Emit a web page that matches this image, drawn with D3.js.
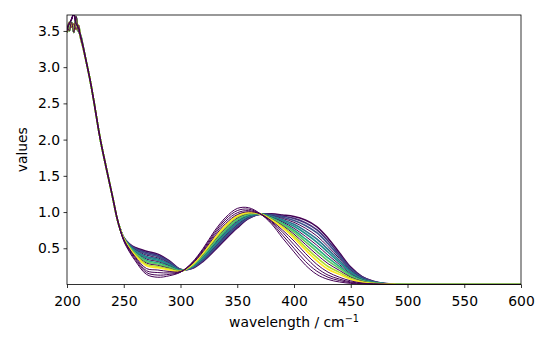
<!DOCTYPE html>
<html><head><meta charset="utf-8">
<script src="https://cdn.jsdelivr.net/npm/d3@7"></script>
<style>
body{margin:0;background:#fff;}
text{font-family:"DejaVu Sans",sans-serif;}
</style></head>
<body><svg id="c" width="550" height="350"></svg>
<script>
// wavelengths of the steep UV part, shared by all spectra
const headWl = [200,202,204,206,208,210,212,214,216,218,220,222,224,226,228,230,235,240,245];
const headA = [3.52,3.60,3.66,3.74,3.60,3.55,3.42,3.30,3.15,3.00,2.85,2.68,2.50,2.31,2.12,1.95,1.58,1.22,0.86];
const headB = [3.58,3.50,3.62,3.48,3.70,3.50,3.44,3.30,3.15,3.00,2.85,2.68,2.50,2.31,2.12,1.95,1.58,1.22,0.86];
const headC = [3.48,3.62,3.55,3.60,3.52,3.58,3.40,3.28,3.14,3.00,2.85,2.68,2.50,2.31,2.12,1.95,1.58,1.22,0.86];
const heads = [headA, headB, headC];
// wavelengths of the visible part
const bodyWl = [250,255,260,270,280,290,300,310,320,330,340,350,360,370,380,390,400,410,420,430,440,450,460,470,480,490,500,600];
const s00 = [.650,.560,.51,.460,.420,.330,.210,.220,.320,.470,.630,.780,.910,.970,.975,.960,.940,.890,.800,.640,.440,.240,.110,.045,.015,.004,0,0];
const s01 = [.648,.555,.50,.442,.403,.318,.207,.225,.331,.485,.647,.795,.918,.970,.967,.944,.913,.853,.757,.601,.413,.225,.103,.042,.014,.004,0,0];
const s02 = [.646,.549,.49,.424,.385,.306,.205,.229,.342,.501,.665,.811,.925,.971,.960,.927,.885,.815,.715,.562,.385,.209,.095,.039,.013,.003,0,0];
const s03 = [.645,.544,.48,.405,.368,.295,.202,.234,.353,.516,.682,.826,.933,.971,.952,.911,.858,.778,.672,.523,.358,.194,.088,.036,.012,.003,0,0];
const s04 = [.643,.538,.47,.387,.351,.283,.199,.238,.364,.532,.699,.842,.941,.972,.944,.895,.831,.741,.629,.484,.331,.178,.081,.033,.011,.003,0,0];
const s05 = [.641,.533,.46,.369,.334,.271,.196,.243,.375,.547,.716,.857,.949,.972,.936,.878,.804,.704,.586,.445,.304,.163,.074,.030,.010,.002,0,0];
const s06 = [.639,.527,.45,.351,.316,.259,.194,.247,.385,.563,.734,.873,.956,.973,.929,.862,.776,.666,.544,.405,.276,.147,.066,.027,.009,.002,0,0];
const s07 = [.637,.522,.44,.333,.299,.247,.191,.252,.396,.578,.751,.888,.964,.973,.921,.845,.749,.629,.501,.366,.249,.132,.059,.024,.008,.002,0,0];
const s08 = [.635,.516,.43,.315,.282,.235,.188,.256,.407,.594,.768,.904,.972,.974,.913,.829,.722,.592,.458,.327,.222,.116,.052,.021,.007,.002,0,0];
const s09 = [.634,.511,.42,.296,.264,.224,.185,.261,.418,.609,.786,.919,.980,.974,.905,.813,.695,.555,.415,.288,.195,.101,.045,.018,.006,.001,0,0];
const s10 = [.632,.505,.41,.278,.247,.212,.183,.265,.429,.625,.803,.935,.987,.975,.898,.796,.667,.517,.373,.249,.167,.085,.037,.015,.005,.001,0,0];
const s11 = [.630,.500,.40,.260,.230,.200,.180,.270,.440,.640,.820,.950,.995,.975,.890,.780,.640,.480,.330,.210,.140,.070,.030,.012,.004,.001,0,0];
const p1  = [.625,.490,.385,.220,.200,.180,.178,.280,.455,.665,.845,.965,1.005,.975,.880,.750,.600,.430,.280,.170,.100,.050,.020,.008,.003,0,0,0];
const p2  = [.620,.480,.370,.190,.165,.160,.175,.290,.470,.690,.875,.990,1.020,.977,.870,.720,.550,.380,.230,.130,.075,.035,.015,.006,.002,0,0,0];
const p3  = [.610,.465,.350,.165,.130,.140,.172,.295,.485,.715,.905,1.020,1.040,.978,.855,.680,.500,.320,.185,.100,.055,.025,.010,.004,.001,0,0,0];
const p4  = [.600,.450,.330,.140,.100,.120,.170,.300,.500,.740,.930,1.050,1.060,.980,.840,.640,.450,.270,.140,.070,.035,.015,.006,.002,0,0,0,0];
const seriesValues = [s00,s01,s02,s03,s04,s05,s06,s07,s08,s09,s10,s11,p1,p2,p3,p4];
const seriesColors = ["#440154","#46317e","#3b528b","#440154","#2c728e","#21918c","#440154","#28ae80",
                      "#5ec962","#440154","#addc30","#fde725","#440154","#440154","#440154","#440154"];
const seriesWidths = [1.5,1.6,1.6,1,1.6,1.6,1,1.6,1.6,1,1.6,1.6,1,1,1,1];
const xTicks = [200,250,300,350,400,450,500,550,600];
const yTicks = [0.5,1.0,1.5,2.0,2.5,3.0,3.5];

const svg = d3.select("#c");
const L=67,R=521,T=15,B=284.5;
const x = d3.scaleLinear().domain([200,600]).range([L,R]);
const y = d3.scaleLinear().domain([0,3.72]).range([B,T]);

svg.append("clipPath").attr("id","clip").append("rect")
  .attr("x",L).attr("y",T).attr("width",R-L).attr("height",B-T);

const line = d3.line().x(d=>x(d[0])).y(d=>y(d[1])).curve(d3.curveCatmullRom.alpha(0.5));
const g = svg.append("g").attr("clip-path","url(#clip)");
seriesValues.forEach((vals,i)=>{
  const h = heads[i%3];
  const pts = headWl.map((w,j)=>[w,h[j]]).concat(bodyWl.map((w,j)=>[w,vals[j]]));
  g.append("path").attr("d",line(pts)).attr("fill","none")
    .attr("stroke",seriesColors[i]).attr("stroke-width",seriesWidths[i]);
});

const fs = "13.9px";
const xa = svg.append("g").attr("transform",`translate(0,${B})`)
  .call(d3.axisBottom(x).tickValues(xTicks).tickFormat(d3.format("d")).tickSize(3.5).tickPadding(3.5));
xa.select(".domain").remove();
xa.selectAll("text").attr("y",21.5).attr("dy",0).style("font-size",fs).attr("fill","#000");
xa.selectAll("line").attr("stroke","#000").attr("stroke-width",0.8);
const ya = svg.append("g").attr("transform",`translate(${L},0)`)
  .call(d3.axisLeft(y).tickValues(yTicks).tickFormat(d3.format(".1f")).tickSize(3.5).tickPadding(3.5));
ya.select(".domain").remove();
ya.selectAll("text").style("font-size",fs).attr("fill","#000");
ya.selectAll("line").attr("stroke","#000").attr("stroke-width",0.8);

svg.append("rect").attr("x",L).attr("y",T).attr("width",R-L).attr("height",B-T)
  .attr("fill","none").attr("stroke","#000").attr("stroke-width",0.8);

const xl = svg.append("text").attr("x",(L+R)/2).attr("y",327).attr("text-anchor","middle").style("font-size",fs);
xl.append("tspan").text("wavelength / cm");
xl.append("tspan").attr("dy",-5).style("font-size","9.7px").text("\u22121");
svg.append("text").attr("transform",`translate(27,${(T+B)/2}) rotate(-90)`)
  .attr("text-anchor","middle").style("font-size",fs).text("values");
</script></body></html>
